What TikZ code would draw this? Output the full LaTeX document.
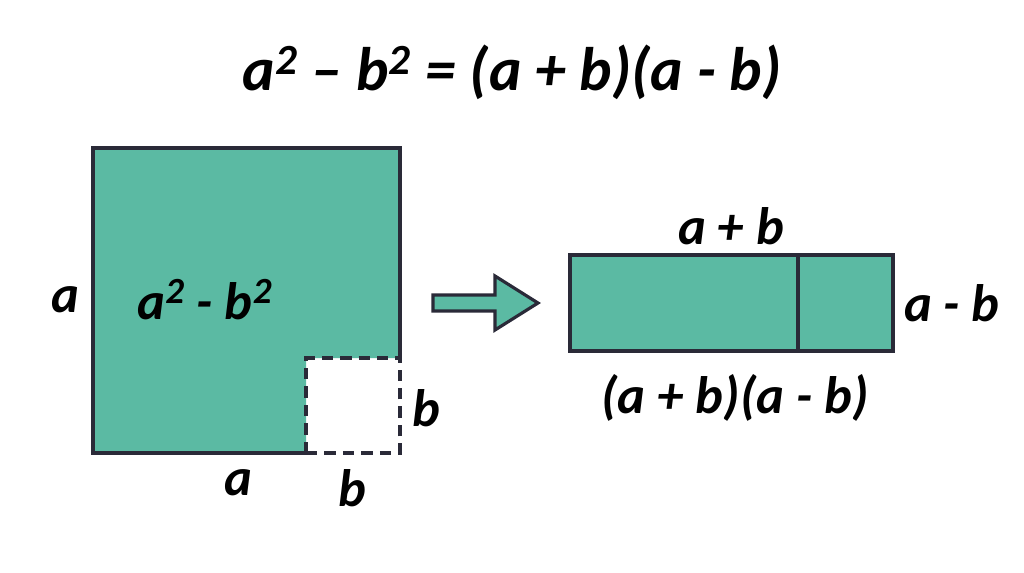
\documentclass[tikz,border=0pt]{standalone}
\usepackage{fontspec}
\setmainfont{Carlito}
\usepackage{tikz}

\definecolor{tealfill}{HTML}{5BBAA3}
\definecolor{inkline}{HTML}{2A2A38}

\tikzset{
  lbl/.style={text=black, font=\bfseries\itshape\fontsize{30}{34}\selectfont},
  titlelbl/.style={text=black, font=\bfseries\itshape\fontsize{35}{40}\selectfont},
  areaedge/.style={draw=inkline, line width=2.2pt, line join=miter},
  gapedge/.style={draw=inkline, line width=2.2pt, dash pattern=on 6.5pt off 4pt}
}

\begin{document}
\begin{tikzpicture}[x=0.02cm, y=0.02cm]
\useasboundingbox (0,0) rectangle (1024,572);

\node[titlelbl] (title) at (512,500) {a\textsuperscript{2} – b\textsuperscript{2} = (a + b)(a - b)};

% square with the corner cut away
\fill[tealfill] (93,424) -- (400,424) -- (400,214) -- (306,214) -- (306,119) -- (93,119) -- cycle;
\draw[areaedge] (306,119) -- (93,119) -- (93,424) -- (400,424) -- (400,214);
\draw[gapedge] (306,119) -- (306,214) -- (400,214);
\draw[gapedge] (306,119) -- (400,119) -- (400,214);

\node[lbl] (sidea) at (65,272) {a};
\node[lbl] (area) at (205,272) {a\textsuperscript{2} - b\textsuperscript{2}};
\node[lbl] (sideb) at (426,164) {b};
\node[lbl] (basea) at (238,89) {a};
\node[lbl] (baseb) at (352,84) {b};

% block arrow
\filldraw[areaedge, fill=tealfill, line width=1.8pt] (433,261) -- (495,261) -- (495,242) -- (538,269) -- (495,296) -- (495,277) -- (433,277) -- cycle;

% rectangle
\filldraw[areaedge, fill=tealfill] (570,221) rectangle (893,317);
\draw[areaedge] (798,221) -- (798,317);

\node[lbl] (topab) at (731,346) {a + b};
\node[lbl] (sideab) at (952,269) {a - b};
\node[lbl] (prod) at (735,174) {(a + b)(a - b)};
\end{tikzpicture}
\end{document}
